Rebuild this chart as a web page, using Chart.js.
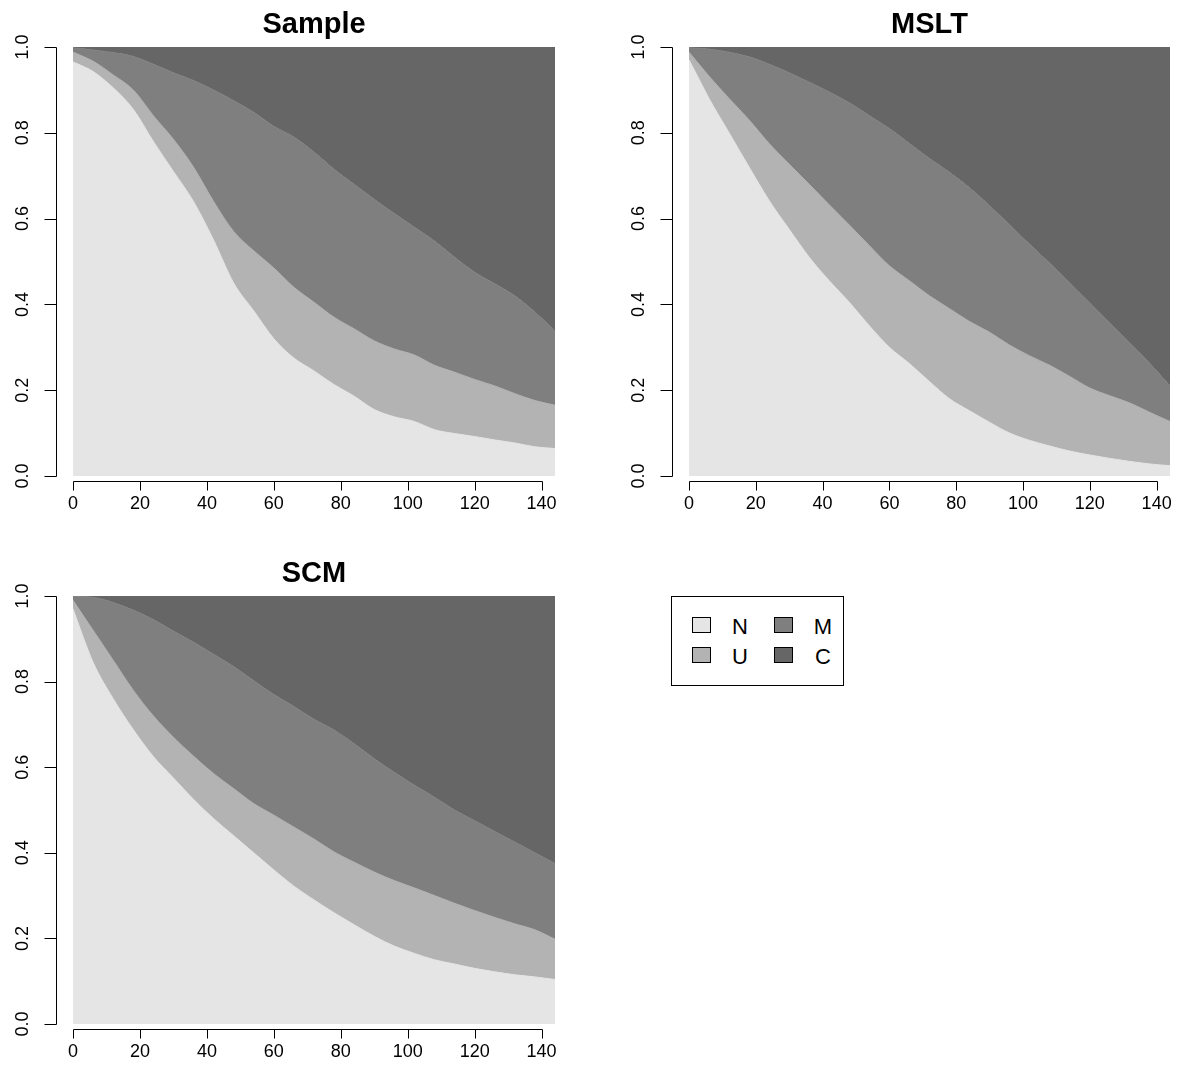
<!DOCTYPE html>
<html>
<head>
<meta charset="utf-8">
<script src="https://cdn.jsdelivr.net/npm/chart.js@4.4.1/dist/chart.umd.min.js"></script>
<style>
  html, body { margin: 0; padding: 0; background: #fff; }
  body { width: 1179px; height: 1066px; position: relative; overflow: hidden;
         font-family: "Liberation Sans", Arial, sans-serif; }
  canvas { position: absolute; }
  #legend { position: absolute; left: 671px; top: 596px; width: 171px; height: 88px;
            border: 1px solid #000; background: #fff; }
  #legend .sw { position: absolute; width: 17px; height: 14px; border: 1px solid #000; }
  #legend .lb { position: absolute; width: 30px; text-align: center;
                font-size: 22px; line-height: 22px; color: #000; }
</style>
</head>
<body>
<canvas id="c-sample" width="590" height="540" style="left:0;top:0"></canvas>
<canvas id="c-mslt" width="589" height="540" style="left:590px;top:0"></canvas>
<canvas id="c-scm" width="590" height="526" style="left:0;top:540px"></canvas>

<div id="legend">
  <div class="sw" style="left:20px;top:20px;background:#e5e5e5"></div>
  <div class="lb" style="left:53px;top:19px">N</div>
  <div class="sw" style="left:20px;top:50px;background:#b3b3b3"></div>
  <div class="lb" style="left:53px;top:49px">U</div>
  <div class="sw" style="left:102px;top:20px;background:#7f7f7f"></div>
  <div class="lb" style="left:136px;top:19px">M</div>
  <div class="sw" style="left:102px;top:50px;background:#666666"></div>
  <div class="lb" style="left:136px;top:49px">C</div>
</div>

<script>
/* ── x positions (time) and axis ticks ── */
const xVals = [0, 3, 6, 12, 18, 24, 30, 36, 42, 48, 54, 60, 66, 72, 78, 84,
               90, 96, 102, 108, 114, 120, 126, 132, 138, 144];
const xTicks = [0, 20, 40, 60, 80, 100, 120, 140];
const yTicks = [0, 0.2, 0.4, 0.6, 0.8, 1.0];
const yTickLabels = ['0.0', '0.2', '0.4', '0.6', '0.8', '1.0'];

/* ── cumulative state boundaries: N, N+U, N+U+M (C fills the rest) ── */
const sampleN   = [0.965, 0.955, 0.943, 0.905, 0.855, 0.78, 0.71, 0.64, 0.55, 0.45, 0.385, 0.32, 0.275,
                   0.245, 0.213, 0.186, 0.155, 0.138, 0.127, 0.108, 0.099, 0.092, 0.084, 0.077, 0.068, 0.064];
const sampleNU  = [0.988, 0.978, 0.967, 0.935, 0.9, 0.84, 0.785, 0.72, 0.64, 0.57, 0.525, 0.485, 0.44,
                   0.405, 0.37, 0.343, 0.315, 0.296, 0.282, 0.258, 0.242, 0.225, 0.21, 0.192, 0.176, 0.165];
const sampleNUM = [0.998, 0.996, 0.993, 0.987, 0.978, 0.96, 0.94, 0.922, 0.9, 0.875, 0.848, 0.815, 0.79,
                   0.755, 0.715, 0.68, 0.645, 0.612, 0.58, 0.548, 0.51, 0.475, 0.448, 0.42, 0.382, 0.338];

const msltN   = [0.97, 0.925, 0.88, 0.8, 0.72, 0.642, 0.575, 0.51, 0.455, 0.405, 0.35, 0.3, 0.262,
                 0.22, 0.18, 0.152, 0.125, 0.1, 0.083, 0.07, 0.058, 0.049, 0.041, 0.034, 0.028, 0.024];
const msltNU  = [0.988, 0.96, 0.932, 0.88, 0.83, 0.775, 0.727, 0.68, 0.632, 0.585, 0.537, 0.49, 0.455,
                 0.42, 0.39, 0.36, 0.335, 0.305, 0.28, 0.258, 0.232, 0.205, 0.187, 0.17, 0.148, 0.127];
const msltNUM = [0.998, 0.997, 0.995, 0.988, 0.977, 0.96, 0.94, 0.918, 0.895, 0.87, 0.84, 0.81, 0.775,
                 0.74, 0.708, 0.672, 0.63, 0.585, 0.54, 0.496, 0.45, 0.404, 0.356, 0.31, 0.262, 0.21];

const scmN   = [0.97, 0.905, 0.845, 0.76, 0.688, 0.625, 0.575, 0.525, 0.48, 0.44, 0.4, 0.36, 0.322,
                0.29, 0.26, 0.232, 0.205, 0.182, 0.165, 0.15, 0.14, 0.13, 0.122, 0.115, 0.11, 0.104];
const scmNU  = [0.99, 0.955, 0.92, 0.85, 0.78, 0.72, 0.67, 0.626, 0.585, 0.55, 0.515, 0.488, 0.46,
                0.432, 0.402, 0.378, 0.355, 0.335, 0.318, 0.3, 0.282, 0.265, 0.249, 0.234, 0.22, 0.198];
const scmNUM = [1.0, 0.999, 0.997, 0.985, 0.967, 0.945, 0.918, 0.892, 0.864, 0.835, 0.802, 0.77, 0.742,
                0.712, 0.687, 0.655, 0.62, 0.588, 0.558, 0.53, 0.5, 0.475, 0.45, 0.425, 0.4, 0.375];

/* ── colours (R gray90 / gray70 / gray50 / gray40) ── */
const COL = { N: '#e5e5e5', U: '#b3b3b3', M: '#7f7f7f', C: '#666666' };
const FONT = '"Liberation Sans", Arial, sans-serif';

/* R-style detached axes + title, drawn from the chart's own scales */
const rAxes = {
  id: 'rAxes',
  afterDraw(chart, args, opts) {
    const { ctx, chartArea: a, scales: { x, y } } = chart;
    ctx.save();
    ctx.strokeStyle = '#000';
    ctx.fillStyle = '#000';
    ctx.lineWidth = 1;

    // x axis
    const ay = Math.round(a.bottom + 6) - 0.5;
    const x0 = Math.round(x.getPixelForValue(xTicks[0])) + 0.5;
    const x1 = Math.round(x.getPixelForValue(xTicks[xTicks.length - 1])) + 0.5;
    ctx.beginPath();
    ctx.moveTo(x0, ay); ctx.lineTo(x1, ay);
    xTicks.forEach(v => {
      const px = Math.round(x.getPixelForValue(v)) + 0.5;
      ctx.moveTo(px, ay); ctx.lineTo(px, ay + 9);
    });
    ctx.stroke();
    ctx.font = '18px ' + FONT;
    ctx.textAlign = 'center';
    ctx.textBaseline = 'alphabetic';
    xTicks.forEach(v => ctx.fillText(String(v), x.getPixelForValue(v), a.bottom + 33));

    // y axis
    const ax = Math.round(a.left - 17.5) + 0.5;
    const yb = Math.round(y.getPixelForValue(0)) + 0.5;
    const yt = Math.round(y.getPixelForValue(1)) + 0.5;
    ctx.beginPath();
    ctx.moveTo(ax, yb); ctx.lineTo(ax, yt);
    yTicks.forEach(v => {
      const py = Math.round(y.getPixelForValue(v)) + 0.5;
      ctx.moveTo(ax, py); ctx.lineTo(ax - 12, py);
    });
    ctx.stroke();
    yTicks.forEach((v, i) => {
      ctx.save();
      ctx.translate(a.left - 45, y.getPixelForValue(v));
      ctx.rotate(-Math.PI / 2);
      ctx.fillText(yTickLabels[i], 0, 0);
      ctx.restore();
    });

    // title
    ctx.font = 'bold 29px ' + FONT;
    ctx.fillText(opts.text, (a.left + a.right) / 2, a.top - 14);
    ctx.restore();
  }
};

function toPoints(ys) {
  return xVals.map((x, i) => ({ x, y: ys[i] }));
}

function makePanel(id, title, n, nu, num, pad) {
  return new Chart(document.getElementById(id), {
    type: 'line',
    data: {
      datasets: [
        { label: 'N', data: toPoints(n),   fill: 'origin', backgroundColor: COL.N, borderColor: COL.N, borderWidth: 1, order: 0 },
        { label: 'U', data: toPoints(nu),  fill: 'origin', backgroundColor: COL.U, borderColor: COL.U, borderWidth: 1, order: 1 },
        { label: 'M', data: toPoints(num), fill: 'origin', backgroundColor: COL.M, borderColor: COL.M, borderWidth: 1, order: 2 },
        { label: 'C', data: toPoints(num), fill: 'end',    backgroundColor: COL.C, borderColor: 'rgba(0,0,0,0)', borderWidth: 0, order: 3 },
      ],
    },
    options: {
      responsive: false,
      animation: false,
      events: [],
      layout: { padding: pad },
      elements: { point: { radius: 0 }, line: { cubicInterpolationMode: 'monotone' } },
      scales: {
        x: { type: 'linear', min: 0, max: 144, display: false },
        y: { type: 'linear', min: 0, max: 1, display: false },
      },
      plugins: {
        legend: { display: false },
        tooltip: { enabled: false },
        rAxes: { text: title },
      },
    },
    plugins: [rAxes],
  });
}

makePanel('c-sample', 'Sample', sampleN, sampleNU, sampleNUM, { left: 73, top: 47, right: 35, bottom: 64 });
makePanel('c-mslt',   'MSLT',   msltN,   msltNU,   msltNUM,   { left: 99, top: 47, right: 9,  bottom: 64 });
makePanel('c-scm',    'SCM',    scmN,    scmNU,    scmNUM,    { left: 73, top: 56, right: 35, bottom: 42 });
</script>
</body>
</html>
